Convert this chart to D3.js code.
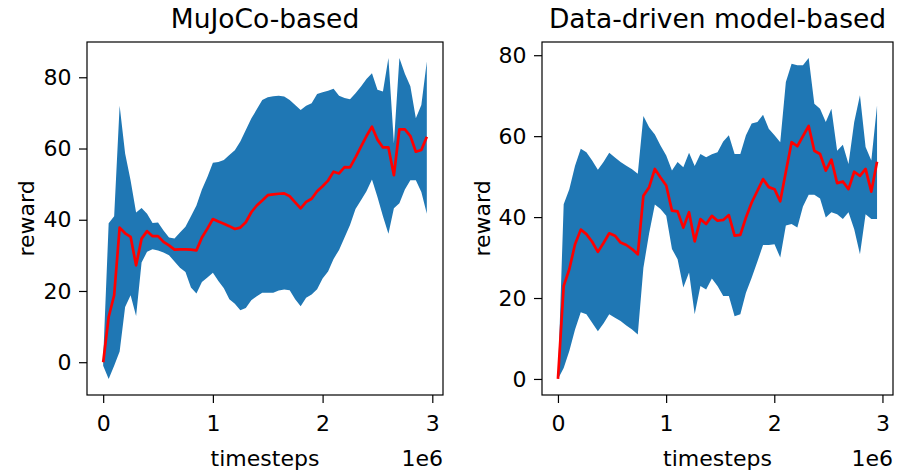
<!DOCTYPE html>
<html>
<head>
<meta charset="utf-8">
<script src="https://cdn.jsdelivr.net/npm/d3@7"></script>
<style>
  body { margin: 0; background: #fff; }
  svg text { font-family: "DejaVu Sans", sans-serif; fill: #000; }
</style>
</head>
<body>
<div id="chart"></div>
<script>
// timesteps are in units of 1e6 (shown as offset text "1e6")
const mujocoSteps = [0, 0.05, 0.1, 0.15, 0.2, 0.25, 0.3, 0.35, 0.4, 0.45, 0.5, 0.55, 0.6, 0.65, 0.7, 0.75, 0.8, 0.85, 0.9, 0.95,
  1.0, 1.05, 1.1, 1.15, 1.2, 1.25, 1.3, 1.35, 1.4, 1.45, 1.5, 1.55, 1.6, 1.65, 1.7, 1.75, 1.8, 1.85, 1.9, 1.95,
  2.0, 2.05, 2.1, 2.15, 2.2, 2.25, 2.3, 2.35, 2.4, 2.45, 2.5, 2.55, 2.6, 2.65, 2.7, 2.75, 2.8, 2.85, 2.9, 2.95];
const mujocoMean = [0, 12.7, 18.8, 37.8, 36.2, 35.2, 27.2, 34.7, 36.8, 35.4, 35.4, 33.8, 32.8, 31.6, 31.7, 31.7, 31.6, 31.4, 35.0, 37.5,
  40.2, 39.5, 38.9, 38.2, 37.4, 37.8, 39.3, 42.1, 44.0, 45.4, 46.9, 47.1, 47.3, 47.4, 46.6, 44.9, 43.2, 45.0, 45.9, 48.0,
  49.4, 51.0, 53.5, 53.0, 54.8, 54.7, 57.5, 60.5, 63.5, 66.1, 62.5, 60.3, 60.3, 52.5, 65.4, 65.4, 63.5, 59.1, 59.6, 63.3];
const mujocoUpper = [1, 39, 41, 72, 58.6, 51, 42, 43.3, 41.7, 39.1, 39.2, 37, 35, 34.7, 36.4, 38, 41, 44, 48.5, 52,
  56, 56.2, 56.8, 58.2, 59.5, 62, 65.2, 68.4, 71, 73.6, 74.4, 74.7, 74.8, 74.6, 73.6, 72.2, 70.8, 72, 72.7, 75.3,
  75.8, 76.2, 76.8, 74.8, 74.2, 73.8, 75.5, 77.4, 79.5, 81.1, 76.5, 76, 85.4, 61.4, 85.4, 81, 77.5, 68.5, 72.2, 84.4];
const mujocoLower = [-1, -4.7, -1, 3, 15.5, 18.8, 13, 28, 31, 31.7, 31.4, 30.8, 30, 28.3, 26.5, 25.3, 21, 19.3, 22.5, 23.8,
  25.1, 22.8, 20.8, 17.7, 16.4, 14.6, 15.2, 17.4, 18.5, 19.5, 19.5, 19.5, 20.1, 20.4, 20.2, 17.7, 15.7, 18.1, 19, 20.5,
  23.5, 25.5, 29, 31.5, 35, 38.5, 43, 45.5, 48, 51.3, 46.4, 41, 36.1, 43.2, 44.6, 48.5, 51.1, 51.1, 47.8, 41.7];

const modelSteps = [0, 0.053, 0.105, 0.158, 0.211, 0.263, 0.316, 0.369, 0.421, 0.474, 0.527, 0.579, 0.632, 0.685, 0.738, 0.790,
  0.843, 0.896, 0.948, 1.001, 1.054, 1.106, 1.159, 1.212, 1.264, 1.317, 1.370, 1.423, 1.475, 1.528, 1.580, 1.633,
  1.686, 1.738, 1.791, 1.844, 1.896, 1.949, 2.002, 2.055, 2.107, 2.160, 2.213, 2.265, 2.318, 2.370, 2.423, 2.476,
  2.528, 2.581, 2.634, 2.686, 2.739, 2.792, 2.844, 2.897, 2.950];
const modelMean = [0, 23, 27.1, 33.3, 36.9, 35.8, 33.9, 31.4, 33.6, 36, 35.4, 33.7, 33.1, 32.1, 30.8, 45.3,
  47.4, 51.9, 49.8, 47.8, 41.6, 41.4, 37.4, 41.2, 34, 39.5, 38.3, 40.3, 39.1, 39.3, 40.5, 35.4,
  35.6, 39.9, 43.6, 46.5, 49.4, 47.4, 46.9, 43.9, 51.2, 58.5, 57.5, 60, 62.5, 56.4, 55.6, 51.5,
  54.2, 48.4, 48.8, 46.9, 51.2, 50.2, 51.9, 46.3, 53.7];
const modelUpper = [0, 43.2, 46.9, 52.7, 56.9, 56, 54, 51.7, 53.6, 55.9, 54.7, 53.6, 52.7, 51.8, 50.7, 65,
  62.2, 60.4, 57.7, 55.2, 51.5, 53.6, 52.3, 55.9, 52.6, 55.6, 54.8, 55.5, 56, 58.7, 60.2, 55.6,
  55.6, 60.2, 63.1, 63.5, 65.3, 61.8, 60.2, 58.5, 73.4, 77.9, 77.5, 77.5, 79.3, 68, 66.8, 63.5,
  66.8, 56.4, 57.9, 53.1, 63.5, 70.1, 57.3, 54, 67.6];
const modelLower = [0, 2.7, 6.9, 12.2, 16.5, 16, 13.9, 11.8, 13.7, 16, 15.1, 14.3, 13.2, 12.2, 11, 27.5,
  36, 43.1, 42, 40.3, 32.1, 29.6, 22.6, 26.3, 16, 23, 22.1, 24.8, 23, 20.5, 20.5, 15.5,
  16, 21.3, 25, 29, 33.1, 33.1, 33.3, 30, 37.9, 38.3, 37.4, 42.6, 45.5, 45.5, 44.6, 39.9,
  41.2, 40.7, 39.5, 41.2, 37, 30.8, 40.7, 39.5, 39.5];

const xTicks = [0, 1, 2, 3];
const yTicks = [0, 20, 40, 60, 80];
const titles = ['MuJoCo-based', 'Data-driven model-based'];

const width = 898;
const height = 471;
const fontSize = 22;

const svg = d3.select('#chart')
  .append('svg')
  .attr('width', width)
  .attr('height', height);

// matplotlib-like 5% margins
function padded(lo, hi) {
  const m = (hi - lo) * 0.05;
  return [lo - m, hi + m];
}

function drawPanel(box, title, steps, mean, upper, lower, ylabelX) {
  const rows = steps.map((s, i) => ({ s: s, m: mean[i], hi: upper[i], lo: lower[i] }));

  const x = d3.scaleLinear()
    .domain(padded(d3.min(steps), d3.max(steps)))
    .range([box.left, box.right]);
  const y = d3.scaleLinear()
    .domain(padded(d3.min(lower), d3.max(upper)))
    .range([box.bottom, box.top]);

  const g = svg.append('g');

  // std band
  g.append('path')
    .datum(rows)
    .attr('d', d3.area().x(d => x(d.s)).y0(d => y(d.lo)).y1(d => y(d.hi)))
    .attr('fill', '#1f77b4');

  // mean line
  g.append('path')
    .datum(rows)
    .attr('d', d3.line().x(d => x(d.s)).y(d => y(d.m)))
    .attr('fill', 'none')
    .attr('stroke', 'red')
    .attr('stroke-width', 2.7)
    .attr('stroke-linejoin', 'round');

  // x axis
  const xAxis = g.append('g')
    .attr('transform', `translate(0,${box.bottom})`)
    .call(d3.axisBottom(x).tickValues(xTicks).tickFormat(d3.format('d')).tickSize(8).tickPadding(12));
  // y axis
  const yAxis = g.append('g')
    .attr('transform', `translate(${box.left},0)`)
    .call(d3.axisLeft(y).tickValues(yTicks).tickSize(8).tickPadding(7.6));

  [xAxis, yAxis].forEach(a => {
    a.select('.domain').remove();
    a.attr('font-size', fontSize).attr('font-family', '"DejaVu Sans", sans-serif');
    a.selectAll('line').attr('stroke', '#000').attr('stroke-width', 1.2);
  });

  // frame
  g.append('rect')
    .attr('x', box.left)
    .attr('y', box.top)
    .attr('width', box.right - box.left)
    .attr('height', box.bottom - box.top)
    .attr('fill', 'none')
    .attr('stroke', '#000')
    .attr('stroke-width', 1.2);

  const cx = (box.left + box.right) / 2;
  const cy = (box.top + box.bottom) / 2;

  g.append('text')
    .attr('x', cx)
    .attr('y', 28)
    .attr('text-anchor', 'middle')
    .attr('font-size', 26.5)
    .text(title);

  g.append('text')
    .attr('x', cx)
    .attr('y', 466)
    .attr('text-anchor', 'middle')
    .attr('font-size', fontSize)
    .text('timesteps');

  g.append('text')
    .attr('x', box.right)
    .attr('y', 466)
    .attr('text-anchor', 'end')
    .attr('font-size', fontSize)
    .text('1e6');

  g.append('text')
    .attr('transform', `translate(${ylabelX},${cy}) rotate(-90)`)
    .attr('text-anchor', 'middle')
    .attr('font-size', fontSize)
    .text('reward');
}

drawPanel({ left: 87, right: 443, top: 42, bottom: 395 }, titles[0],
  mujocoSteps, mujocoMean, mujocoUpper, mujocoLower, 34);
drawPanel({ left: 542, right: 893, top: 42, bottom: 395 }, titles[1],
  modelSteps, modelMean, modelUpper, modelLower, 490);
</script>
</body>
</html>
